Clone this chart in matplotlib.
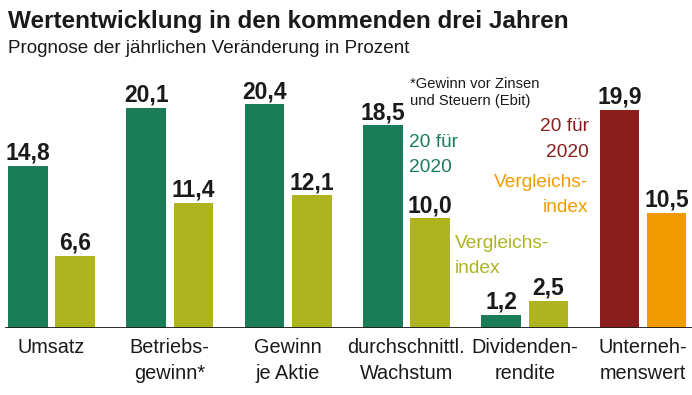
import matplotlib
matplotlib.use('Agg')
import matplotlib.pyplot as plt
import numpy as np

# Daten
categories = [['Umsatz'], ['Betriebs-', 'gewinn*'], ['Gewinn', 'je Aktie'],
              ['durchschnittl.', 'Wachstum'], ['Dividenden-', 'rendite'],
              ['Unterneh-', 'menswert']]
company = [14.8, 20.1, 20.4, 18.5, 1.2, 19.9]      # 20 für 2020
benchmark = [6.6, 11.4, 12.1, 10.0, 2.5, 10.5]     # Vergleichsindex

GREEN = '#1b7d57'
OLIVE = '#adb41e'
RED = '#8b1d1d'
ORANGE = '#f29b00'
INK = '#1a1a1a'

c_company = [GREEN] * 5 + [RED]
c_bench = [OLIVE] * 5 + [ORANGE]

FONT = ['Liberation Sans', 'DejaVu Sans']

W, H = 692, 395
fig = plt.figure(figsize=(W / 100, H / 100), dpi=100)
fig.patch.set_facecolor('white')


def fx(x):
    return x / W


def fy(y):
    return 1 - y / H


base_px = 328
top_px = 60
scale = 10.97  # px per Prozentpunkt
ax = fig.add_axes([0, fy(base_px), 1, (base_px - top_px) / H])
ax.set_xlim(-0.435, 5.414)
ax.set_ylim(0, (base_px - top_px) / scale)
ax.axis('off')

x = np.arange(len(company))
off = 0.2
bw = 0.335
ax.bar(x - off, company, bw, color=c_company, zorder=2)
ax.bar(x + off, benchmark, bw, color=c_bench, zorder=2)
ax.axhline(0, xmin=6 / W, xmax=1, color=INK, lw=1.3, zorder=3)

lab_off = 6 / scale
for xi, v in zip(x - off, company):
    ax.text(xi, v + lab_off, f'{v:.1f}'.replace('.', ','), ha='center', va='baseline',
            fontsize=16.5, fontweight='bold', color=INK, family=FONT)
for xi, v in zip(x + off, benchmark):
    ax.text(xi, v + lab_off, f'{v:.1f}'.replace('.', ','), ha='center', va='baseline',
            fontsize=16.5, fontweight='bold', color=INK, family=FONT)

# Kategorien unter der Achse
for xi, lines in zip(x, categories):
    for k, line in enumerate(lines):
        ax.annotate(line, xy=(xi, 0), xytext=(0, -(25 + 26 * k) * 0.72),
                    textcoords='offset points', ha='center', va='baseline',
                    fontsize=14.3, color=INK, family=FONT)

# Titel
fig.text(fx(8), fy(28), 'Wertentwicklung in den kommenden drei Jahren',
         fontsize=17.5, fontweight='bold', color=INK, va='baseline', family=FONT)
fig.text(fx(8), fy(53), 'Prognose der jährlichen Veränderung in Prozent',
         fontsize=13.6, color=INK, va='baseline', family=FONT)

# Fussnote
fig.text(fx(410), fy(88), '*Gewinn vor Zinsen', fontsize=10.6, color=INK,
         va='baseline', family=FONT)
fig.text(fx(410), fy(105), 'und Steuern (Ebit)', fontsize=10.6, color=INK,
         va='baseline', family=FONT)

# Legenden-Beschriftungen
fs = 13.8
fig.text(fx(409), fy(147), '20 für', fontsize=fs, color=GREEN, va='baseline', family=FONT)
fig.text(fx(409), fy(172), '2020', fontsize=fs, color=GREEN, va='baseline', family=FONT)
fig.text(fx(455), fy(248), 'Vergleichs-', fontsize=fs, color=OLIVE, va='baseline', family=FONT)
fig.text(fx(455), fy(273), 'index', fontsize=fs, color=OLIVE, va='baseline', family=FONT)
fig.text(fx(589), fy(131), '20 für', fontsize=fs, color=RED, va='baseline', ha='right', family=FONT)
fig.text(fx(589), fy(157), '2020', fontsize=fs, color=RED, va='baseline', ha='right', family=FONT)
fig.text(fx(588), fy(187), 'Vergleichs-', fontsize=fs, color=ORANGE, va='baseline', ha='right', family=FONT)
fig.text(fx(588), fy(212), 'index', fontsize=fs, color=ORANGE, va='baseline', ha='right', family=FONT)

fig.savefig('out.png', dpi=100, facecolor='white')
